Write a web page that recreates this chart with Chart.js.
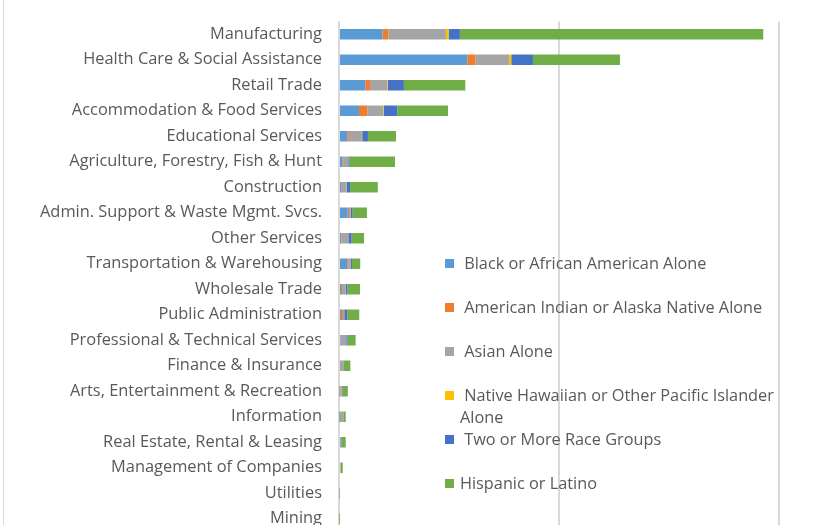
<!DOCTYPE html>
<html>
<head>
<meta charset="utf-8">
<script src="https://cdn.jsdelivr.net/npm/chart.js@4"></script>
<style>
    html, body { margin: 0; padding: 0; background: #fff; overflow: hidden; }
    #wrap { position: relative; width: 827px; height: 545px; }
    #frame { position: absolute; left: 3px; top: 0; width: 0; height: 545px; border-left: 1px solid #d9d9d9; }
    #legend { position: absolute; left: 445px; top: 252px; font-family: "Open Sans", sans-serif; font-size: 16.3px; color: #595959; }
    #legend .item { position: relative; height: 44px; padding-left: 15px; line-height: 22px; }
    #legend .box { position: absolute; left: 0; top: 7px; width: 9px; height: 9px; }
</style>
</head>
<body>
<div id="wrap">
    <div id="frame"></div>
    <canvas id="industryChart" width="827" height="545"></canvas>
    <div id="legend"></div>
</div>
<script>
// Industries, top to bottom
const industries = [
    'Manufacturing', 'Health Care & Social Assistance', 'Retail Trade',
    'Accommodation & Food Services', 'Educational Services',
    'Agriculture, Forestry, Fish & Hunt', 'Construction',
    'Admin. Support & Waste Mgmt. Svcs.', 'Other Services',
    'Transportation & Warehousing', 'Wholesale Trade', 'Public Administration',
    'Professional & Technical Services', 'Finance & Insurance',
    'Arts, Entertainment & Recreation', 'Information',
    'Real Estate, Rental & Leasing', 'Management of Companies', 'Utilities', 'Mining'
];

// Estimated values per group
const black    = [1970, 5830, 1195, 910, 375, 170, 105, 395, 90, 375, 90, 90, 70, 45, 25, 20, 45, 0, 0, 0];
const amIndian = [270, 380, 215, 375, 75, 45, 30, 60, 15, 65, 45, 90, 10, 0, 45, 0, 0, 0, 0, 0];
const asian    = [2620, 1515, 785, 730, 590, 195, 215, 75, 350, 90, 170, 60, 250, 150, 45, 175, 20, 70, 0, 0];
const hawaiian = [120, 105, 30, 30, 15, 10, 5, 0, 0, 0, 0, 0, 0, 0, 0, 0, 0, 0, 0, 0];
const twoPlus  = [515, 985, 725, 605, 260, 60, 150, 90, 120, 60, 75, 135, 60, 20, 45, 0, 45, 0, 0, 0];
const hispanic = [13790, 3955, 2790, 2305, 1275, 2065, 1260, 650, 565, 375, 575, 545, 365, 300, 240, 110, 195, 100, 20, 10];

const seriesNames = [
    'Black or African American Alone',
    'American Indian or Alaska Native Alone',
    'Asian Alone',
    'Native Hawaiian or Other Pacific Islander Alone',
    'Two or More Race Groups',
    'Hispanic or Latino'
];
const seriesData = [black, amIndian, asian, hawaiian, twoPlus, hispanic];
const seriesColors = ['#5b9bd5', '#ed7d31', '#a5a5a5', '#ffc000', '#4472c4', '#70ad47'];

const ctx = document.getElementById('industryChart').getContext('2d');
new Chart(ctx, {
    type: 'bar',
    data: {
        labels: industries,
        datasets: seriesNames.map((name, i) => ({
            label: name,
            data: seriesData[i],
            backgroundColor: seriesColors[i],
            borderWidth: 0,
            barPercentage: 0.42,
            categoryPercentage: 1
        }))
    },
    options: {
        indexAxis: 'y',
        responsive: false,
        animation: false,
        layout: { padding: { top: 21.5, right: 48, bottom: 13.5, left: 0 } },
        plugins: {
            legend: { display: false },
            tooltip: { enabled: false }
        },
        scales: {
            x: {
                stacked: true,
                min: 0,
                max: 20000,
                ticks: { display: false, stepSize: 10000 },
                grid: { color: '#d9d9d9', lineWidth: 2, drawTicks: false },
                border: { display: false },
                afterFit: scale => {
                    scale.height = 0;
                    scale.paddingLeft = 0;
                    scale.paddingRight = 0;
                }
            },
            y: {
                stacked: true,
                grid: { display: false, drawTicks: false },
                border: { color: '#d9d9d9', width: 2 },
                ticks: {
                    color: '#595959',
                    padding: 17,
                    autoSkip: false,
                    font: { family: '"Open Sans", sans-serif', size: 16.4 }
                },
                afterFit: scale => {
                    scale.width = 339;
                    scale.paddingTop = 0;
                    scale.paddingBottom = 0;
                }
            }
        }
    }
});

// Legend placed inside the plot like the original
const legend = document.getElementById('legend');
seriesNames.forEach((name, i) => {
    const item = document.createElement('div');
    item.className = 'item';
    const box = document.createElement('span');
    box.className = 'box';
    box.style.background = seriesColors[i];
    item.appendChild(box);
    const text = document.createElement('span');
    if (i === 3) {
        text.innerHTML = '&nbsp;Native Hawaiian or Other Pacific Islander<br>Alone';
    } else if (i === 5) {
        text.textContent = name;
    } else {
        text.innerHTML = '&nbsp;' + name;
    }
    item.appendChild(text);
    legend.appendChild(item);
});
</script>
</body>
</html>
